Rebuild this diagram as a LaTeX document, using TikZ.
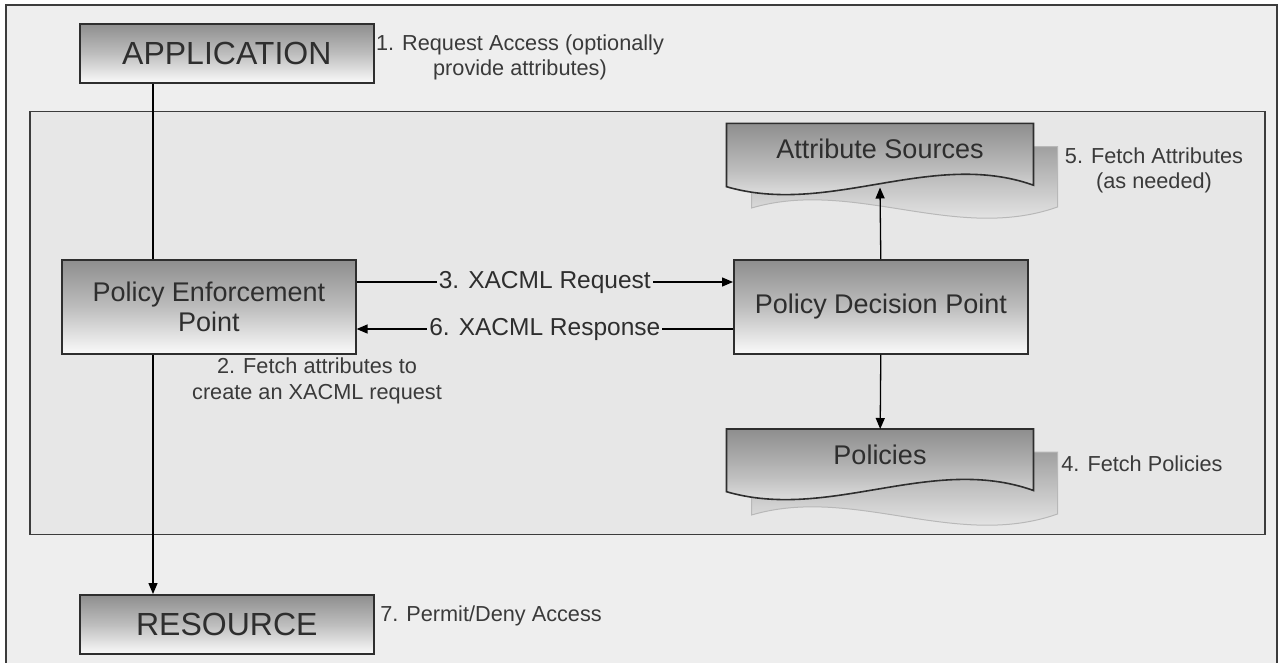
\documentclass[tikz,border=0pt]{standalone}
\usepackage{fontspec}
\setmainfont{Liberation Sans}
\usetikzlibrary{arrows.meta,shadows}
\definecolor{outerbg}{HTML}{EEEEEE}
\definecolor{innerbg}{HTML}{E7E7E7}
\definecolor{framec}{HTML}{3C3C3C}
\definecolor{ink}{HTML}{2E2E2E}
\definecolor{note}{HTML}{3A3A3A}
\definecolor{shtop}{HTML}{8E8E8E}
\definecolor{shmid}{HTML}{BDBDBD}
\definecolor{shbot}{HTML}{FAFAFA}
\definecolor{backtop}{HTML}{A0A0A0}
\definecolor{backline}{HTML}{B8B8B8}
\begin{document}
\begin{tikzpicture}[x=1pt,y=-1pt,
  dshade/.style={top color=shtop, bottom color=shbot, middle color=shmid},
  bshade/.style={top color=backtop, bottom color=shbot},
  box/.style={draw=ink, line width=1.6pt, dshade,
    drop shadow={shadow xshift=1.5pt, shadow yshift=-1.5pt, fill=black, opacity=0.4},
    text=ink, inner sep=0pt, anchor=north west, align=center},
  bigtxt/.style={font=\fontsize{32}{36}\selectfont},
  boxtxt/.style={font=\fontsize{27}{30}\selectfont},
  note/.style={text=note, align=center, inner sep=0pt, font=\fontsize{21.7}{25.5}\selectfont},
  lbl/.style={fill=innerbg, text=ink, inner sep=2pt, font=\fontsize{24.5}{28}\selectfont},
  conn/.style={draw=black, line width=1.3pt},
  arr/.style={conn, -{Triangle[length=11pt,width=9pt]}},
  hold/.style={inner sep=0pt, anchor=north west}
]
\useasboundingbox (0,0) rectangle (1278,662);
\fill[white] (0,0) rectangle (1278,662);
% outer frame
\draw[line width=2pt, draw=framec, fill=outerbg] (6,5) rectangle (1276.5,680);
% inner frame
\draw[line width=1.6pt, draw=framec, fill=innerbg] (30,111.5) rectangle (1265,534.5);

% boxes
\node[box, bigtxt, minimum width=294pt, minimum height=59pt] (app) at (79,23) {APPLICATION};
\node[box, boxtxt, minimum width=294pt, minimum height=94pt] (pep) at (61,259) {Policy Enforcement\\Point};
\node[box, boxtxt, minimum width=294pt, minimum height=94pt] (pdp) at (733,259) {Policy Decision Point};
\node[box, bigtxt, minimum width=294pt, minimum height=59pt] (res) at (79,594) {RESOURCE};

% Attribute Sources document stack
\shade[bshade, draw=backline, line width=1pt]
  (751.5,146.5) -- (1057.5,146.5) -- (1057.5,207)
  .. controls (955.5,243) and (853.5,178) .. (751.5,208) -- cycle;
\shade[dshade]
  (726.5,123.3) -- (1033.5,123.3) -- (1033.5,185.2)
  .. controls (931.5,149) and (829.5,216.7) .. (726.5,186.7) -- cycle;
\draw[draw=ink, line width=1.6pt]
  (726.5,123.3) -- (1033.5,123.3) -- (1033.5,185.2)
  .. controls (931.5,149) and (829.5,216.7) .. (726.5,186.7) -- cycle;
\node[hold, minimum width=307pt, minimum height=63pt] (asbox) at (726.5,123.3) {};
\node[text=ink, boxtxt, inner sep=0pt] (astxt) at (880,149) {Attribute Sources};
\coordinate (aswave) at (880,187.5);

% Policies document stack
\shade[bshade, draw=backline, line width=1pt]
  (751.5,452) -- (1057.5,452) -- (1057.5,514)
  .. controls (955.5,550) and (853.5,485) .. (751.5,515) -- cycle;
\shade[dshade]
  (726.5,429) -- (1033.5,429) -- (1033.5,490.5)
  .. controls (931.5,454) and (829.5,521.7) .. (726.5,491.7) -- cycle;
\draw[draw=ink, line width=1.6pt]
  (726.5,429) -- (1033.5,429) -- (1033.5,490.5)
  .. controls (931.5,454) and (829.5,521.7) .. (726.5,491.7) -- cycle;
\node[hold, minimum width=307pt, minimum height=63pt] (polbox) at (726.5,429) {};
\node[text=ink, boxtxt, inner sep=0pt] (poltxt) at (880,455) {Policies};

% connectors
\coordinate (spine) at (153,0);
\coordinate (yreq) at (0,282);
\coordinate (yresp) at (0,329);
\draw[conn] (app.south -| spine) -- (pep.north -| spine);
\draw[arr] (pep.south -| spine) -- (res.north -| spine);
\draw[arr] (pep.east |- yreq) -- node[lbl] (l3) {3. XACML Request} (pdp.west |- yreq);
\draw[arr] (pdp.west |- yresp) -- node[lbl] (l6) {6. XACML Response} (pep.east |- yresp);
\draw[arr] (pdp.north) -- (aswave);
\draw[arr] (pdp.south) -- (polbox.north);

% annotations
\node[note] (n1) at (520,57.5) {1. Request Access (optionally\\provide attributes)};
\node[note] (n2) at (317,381) {2. Fetch attributes to\\create an XACML request};
\node[note] (n5) at (1154,170.5) {5. Fetch Attributes\\(as needed)};
\node[note] (n4) at (1142,463.5) {4. Fetch Policies};
\node[note] (n7) at (491,616) {7. Permit/Deny Access};
\end{tikzpicture}
\end{document}
